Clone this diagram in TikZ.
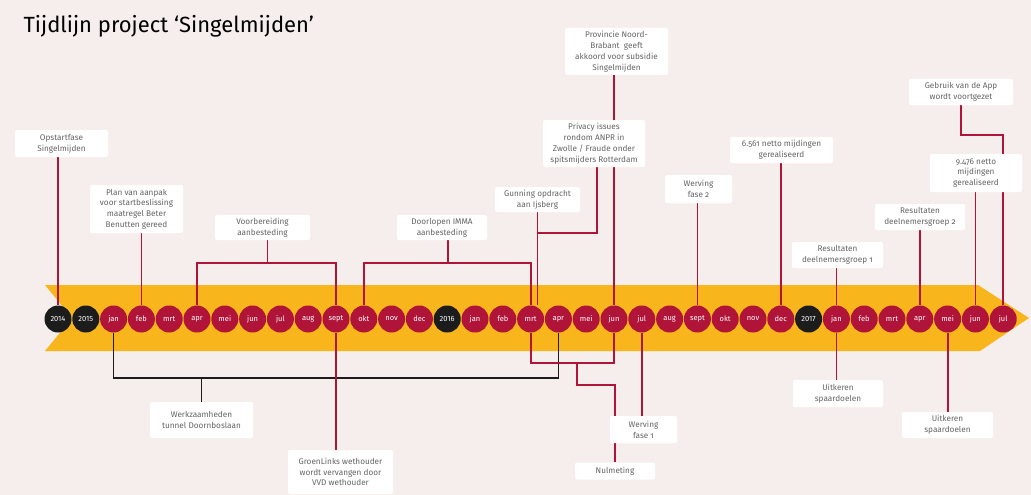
\documentclass[tikz,border=0pt]{standalone}
\usepackage{fontspec}
\setmainfont{Fira Sans}
\newfontfamily\boxfont{Fira Sans}[Numbers=OldStyle]
\usetikzlibrary{calc}
\definecolor{bgc}{RGB}{246,238,236}
\definecolor{band}{RGB}{248,182,28}
\definecolor{mred}{RGB}{176,20,56}
\definecolor{mblk}{RGB}{28,28,28}
\definecolor{txtg}{RGB}{100,100,100}
\pgfdeclarelayer{bg}\pgfdeclarelayer{lines}\pgfsetlayers{bg,lines,main}
\begin{document}
\begin{tikzpicture}[x=1pt,y=-1pt,
 circ/.style={circle, minimum size=27pt, inner sep=0pt, text=white, font=\fontsize{7.5}{8}\selectfont},
 lbl/.style={fill=white, rounded corners=2pt, inner sep=0pt, align=center, text=txtg, font=\boxfont\fontsize{8.2}{10.8}\selectfont},
 redln/.style={draw=mred, line width=1.8pt},
 blkln/.style={draw=mblk, line width=1.5pt}]
\useasboundingbox (0,0) rectangle (1031,495);
\begin{pgfonlayer}{bg}
\fill[bgc] (0,0) rectangle (1031,495);
\fill[band] (45,285) -- (978,285) -- (1029,318) -- (980,351) -- (45,351) -- (72,318) -- cycle;
\end{pgfonlayer}
\node[anchor=base west, font=\fontsize{22}{24}\selectfont, text=black] (title) at (20,33) {Tijdlijn project ‘Singelmijden’};
% timeline circles
\foreach \lab/\col [count=\i from 0] in {2014/mblk,2015/mblk,jan/mred,feb/mred,mrt/mred,apr/mred,mei/mred,jun/mred,jul/mred,aug/mred,sept/mred,okt/mred,nov/mred,dec/mred,2016/mblk,jan/mred,feb/mred,mrt/mred,apr/mred,mei/mred,jun/mred,jul/mred,aug/mred,sept/mred,okt/mred,nov/mred,dec/mred,2017/mblk,jan/mred,feb/mred,mrt/mred,apr/mred,mei/mred,jun/mred,jul/mred}
  \node[circ, fill=\col] (m\i) at ({58+27.8*\i},319) {\lab};
% labels above
\node[lbl, minimum width=93pt, minimum height=27pt] (ops) at (61.5,143.5) {Opstartfase\\Singelmijden};
\node[lbl, minimum width=93pt, minimum height=48pt] (plan) at (136.5,209) {Plan van aanpak\\voor startbeslissing\\maatregel Beter\\Benutten gereed};
\node[lbl, minimum width=95pt, minimum height=25pt] (voor) at (262.5,227.5) {Voorbereiding\\aanbesteding};
\node[lbl, minimum width=90pt, minimum height=25pt] (imma) at (442,227.5) {Doorlopen IMMA\\aanbesteding};
\node[lbl, minimum width=85pt, minimum height=25pt] (gun) at (537.5,199.5) {Gunning opdracht\\aan Ijsberg};
\node[lbl, minimum width=102pt, minimum height=47pt] (priv) at (594,143.5) {Privacy issues\\rondom ANPR in\\Zwolle / Fraude onder\\spitsmijders Rotterdam};
\node[lbl, minimum width=103pt, minimum height=47pt] (prov) at (616.5,51.5) {Provincie Noord-\\Brabant\ \ geeft\\akkoord voor subsidie\\Singelmijden};
\node[lbl, minimum width=67pt, minimum height=28pt] (wer2) at (698.5,189) {Werving\\fase 2};
\node[lbl, minimum width=103pt, minimum height=26pt] (r6561) at (781.5,150) {6.561 netto mijdingen\\gerealiseerd};
\node[lbl, minimum width=104pt, minimum height=26pt] (app) at (961,92) {Gebruik van de App\\wordt voortgezet};
\node[lbl, minimum width=92pt, minimum height=38pt] (r9476) at (976,173) {9.476 netto\\mijdingen\\gerealiseerd};
\node[lbl, minimum width=90pt, minimum height=26pt] (res2) at (920,217) {Resultaten\\deelnemersgroep 2};
\node[lbl, minimum width=91pt, minimum height=26pt] (res1) at (837.5,255) {Resultaten\\deelnemersgroep 1};
% labels below
\node[lbl, minimum width=103pt, minimum height=36pt] (werk) at (201.5,420) {Werkzaamheden\\tunnel Doornboslaan};
\node[lbl, minimum width=105pt, minimum height=44pt] (groen) at (340.5,472) {GroenLinks wethouder\\wordt vervangen door\\VVD wethouder};
\node[lbl, minimum width=67pt, minimum height=27pt] (wer1) at (643.5,429.5) {Werving\\fase 1};
\node[lbl, minimum width=80pt, minimum height=17pt] (nul) at (615,471) {Nulmeting};
\node[lbl, minimum width=90pt, minimum height=27pt] (uit1) at (838,393.5) {Uitkeren\\spaardoelen};
\node[lbl, minimum width=91pt, minimum height=26pt] (uit2) at (947.5,425) {Uitkeren\\spaardoelen};
% connectors
\begin{pgfonlayer}{lines}
\draw[redln] (ops.south -| m0) -- (m0.north);
\draw[redln] (plan.south -| m3) -- (m3.north);
\coordinate (vj) at ([xshift=5pt,yshift=-23pt]voor.south);
\draw[redln] (voor.south -| vj) -- (vj);
\draw[redln] (m5.north) |- (vj) -| (m10.north);
\coordinate (ij) at ([xshift=6pt,yshift=-23pt]imma.south);
\draw[redln] (imma.south -| ij) -- (ij);
\draw[redln] (m11.north) |- (ij) -| (m17.north);
\draw[redln] (gun.south) -- (gun.south |- m17.north);
\coordinate (gj) at ([yshift=-21pt]gun.south);
\draw[redln] ([xshift=3pt]priv.south) |- (gj);
\draw[redln] (prov.south -| m20) -- (m20.north);
\draw[redln] (wer2.south -| m23) -- (m23.north);
\draw[redln] (r6561.south -| m26) -- (m26.north);
\draw[redln] (app.south) -- ++(0,30) -| (m34.north);
\draw[redln] (r9476.south -| m33) -- (m33.north);
\draw[redln] (res2.south -| m31) -- (m31.north);
\draw[redln] (res1.south -| m28) -- (m28.north);
\coordinate (wj) at ([yshift=24pt]werk.north);
\draw[blkln] (m2.south) |- (wj) -| (m18.south);
\draw[blkln] (wj) -- (werk.north);
\draw[redln] (m10.south) -- (groen.north -| m10);
\coordinate (nj) at (577,363);
\draw[redln] (m17.south) |- (nj) -| (m20.south);
\draw[redln] (nj) -- ++(0,22) -| (nul.north);
\draw[redln] (m21.south) -- (wer1.north -| m21);
\draw[redln] (m28.south) -- (uit1.north -| m28);
\draw[redln] (m32.south) -- (uit2.north -| m32);
\end{pgfonlayer}
\end{tikzpicture}
\end{document}
